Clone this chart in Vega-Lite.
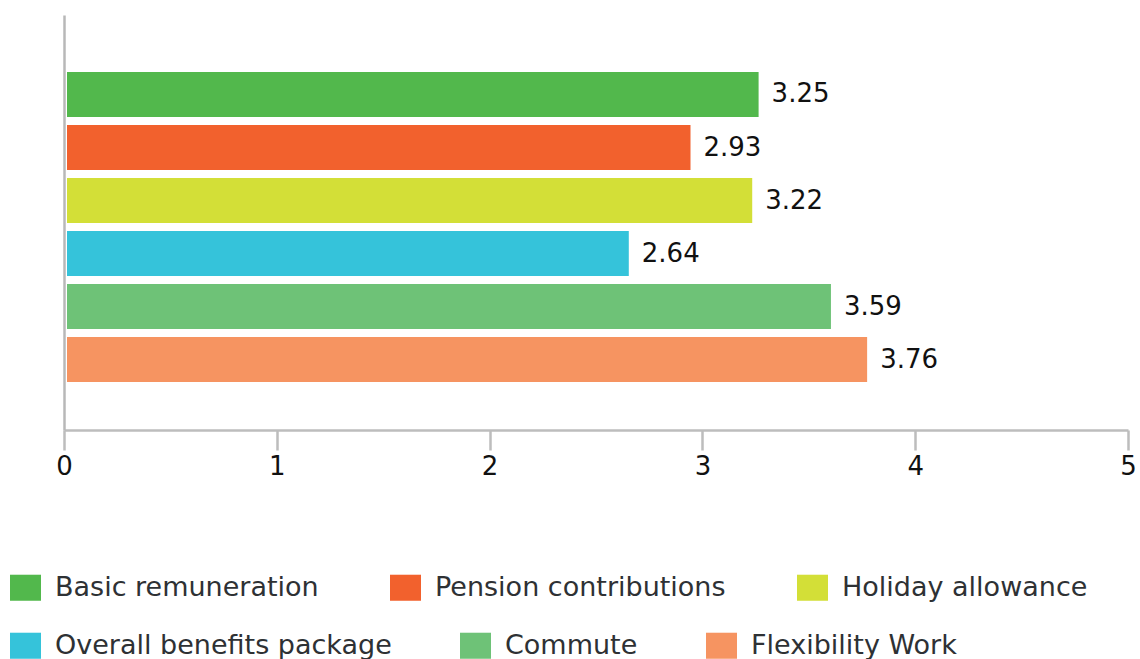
{
  "$schema": "https://vega.github.io/schema/vega-lite/v6.json",
  "autosize": {"type": "none"},
  "width": 1064,
  "height": 415,
  "padding": {"left": 64, "top": 15, "right": 12, "bottom": 229},
  "background": "white",
  "config": {
    "view": {"stroke": null},
    "font": "DejaVu Sans",
    "legend": {
      "title": null,
      "orient": "none",
      "direction": "horizontal",
      "symbolType": "M-1,-0.84H1V0.84H-1Z",
      "symbolSize": 961,
      "symbolStrokeWidth": 0,
      "symbolOpacity": 1,
      "labelFontSize": 27,
      "labelColor": "#2e3134",
      "labelFont": "DejaVu Sans",
      "labelOffset": 14,
      "labelLimit": 500
    }
  },
  "data": {
    "values": [
      {"category": "Basic remuneration", "value": 3.25},
      {"category": "Pension contributions", "value": 2.93},
      {"category": "Holiday allowance", "value": 3.22},
      {"category": "Overall benefits package", "value": 2.64},
      {"category": "Commute", "value": 3.59},
      {"category": "Flexibility Work", "value": 3.76}
    ]
  },
  "encoding": {
    "y": {
      "field": "category",
      "type": "nominal",
      "sort": null,
      "scale": {
        "domain": ["Basic remuneration", "Pension contributions", "Holiday allowance", "Overall benefits package", "Commute", "Flexibility Work"],
        "paddingInner": 0.151, "paddingOuter": 0.99, "align": 0.543
      },
      "axis": {
        "title": null,
        "labels": false,
        "ticks": false,
        "domain": true,
        "domainColor": "#b8b8b8",
        "domainWidth": 2.5,
        "grid": false
      }
    },
    "x": {
      "field": "value",
      "type": "quantitative",
      "scale": {"domain": [0, 5], "nice": false},
      "axis": {
        "title": null,
        "values": [0, 1, 2, 3, 4, 5],
        "format": "d",
        "grid": false,
        "domainColor": "#bdbdbd",
        "domainWidth": 2.5,
        "tickColor": "#bdbdbd",
        "tickWidth": 2.5,
        "tickSize": 20,
        "labelFontSize": 26,
        "labelColor": "#111111",
        "labelPadding": 3,
        "labelFlush": false,
        "labelFont": "DejaVu Sans"
      }
    }
  },
  "layer": [
    {
      "transform": [{"filter": {"field": "category", "oneOf": ["Basic remuneration", "Pension contributions", "Holiday allowance"]}}],
      "mark": {"type": "bar", "xOffset": 3},
      "encoding": {
        "color": {
          "field": "category",
          "type": "nominal",
          "sort": null,
          "scale": {
            "domain": ["Basic remuneration", "Pension contributions", "Holiday allowance"],
            "range": ["#52B84C", "#F2612D", "#D3DF37"]
          },
          "legend": {
            "legendX": -54,
            "legendY": 557,
            "columnPadding": 71
          }
        }
      }
    },
    {
      "transform": [{"filter": {"field": "category", "oneOf": ["Overall benefits package", "Commute", "Flexibility Work"]}}],
      "mark": {"type": "bar", "xOffset": 3},
      "encoding": {
        "color": {
          "field": "category",
          "type": "nominal",
          "sort": null,
          "scale": {
            "domain": ["Overall benefits package", "Commute", "Flexibility Work"],
            "range": ["#35C3DA", "#6EC277", "#F69461"]
          },
          "legend": {
            "legendX": -54,
            "legendY": 615,
            "columnPadding": 68
          }
        }
      }
    },
    {
      "mark": {"type": "text", "align": "left", "baseline": "middle", "dx": 16, "fontSize": 26, "color": "#111111", "font": "DejaVu Sans"},
      "encoding": {
        "text": {"field": "value", "type": "quantitative", "format": ".2f"}
      }
    }
  ],
  "resolve": {"scale": {"color": "independent"}, "legend": {"color": "independent"}}
}
